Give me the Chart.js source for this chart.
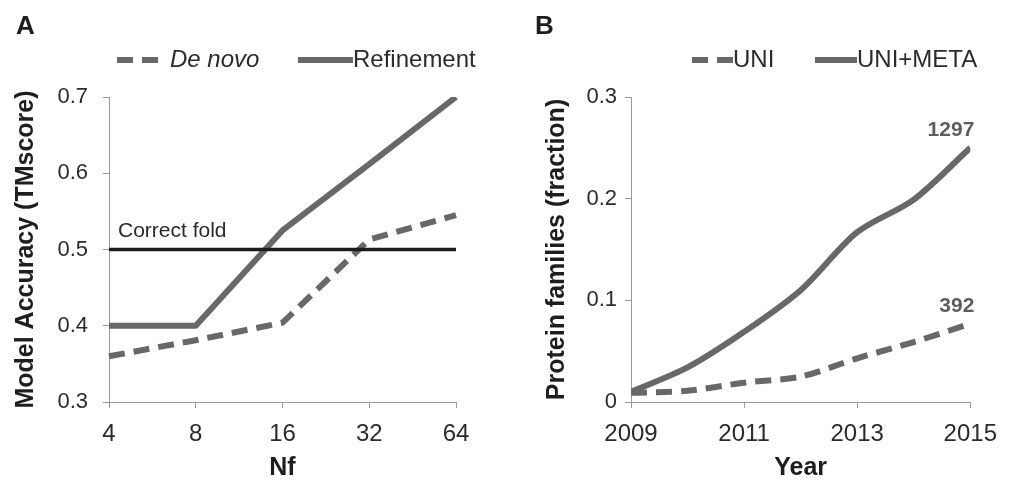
<!DOCTYPE html>
<html>
<head>
<meta charset="utf-8">
<script src="https://cdn.jsdelivr.net/npm/chart.js@4/dist/chart.umd.min.js"></script>
<style>
  html, body { margin: 0; padding: 0; background: #fff; }
  #wrap { position: relative; width: 1009px; height: 481px; overflow: hidden; background: #fff; }
  #boxA { position: absolute; left: 0; top: 0; width: 500px; height: 481px; }
  #boxB { position: absolute; left: 500px; top: 0; width: 509px; height: 481px; }
</style>
</head>
<body>
<div id="wrap">
  <div id="boxA"><canvas id="panelA" width="500" height="481"></canvas></div>
  <div id="boxB"><canvas id="panelB" width="509" height="481"></canvas></div>
</div>
<script>
// Panel A: model accuracy against number of effective sequences (Nf)
const nfLabels = ['4', '8', '16', '32', '64'];
const deNovo = [0.360, 0.381, 0.404, 0.513, 0.545];
const refinement = [0.400, 0.400, 0.525, 0.612, 0.700];
const correctFold = [0.5, 0.5, 0.5, 0.5, 0.5];
const accuracyTicks = ['0.3', '0.4', '0.5', '0.6', '0.7'];

// Panel B: fraction of protein families with enough sequences, per year
const years = [2009, 2010, 2011, 2012, 2013, 2014, 2015];
const uni = [0.009, 0.011, 0.019, 0.025, 0.043, 0.059, 0.077];
const uniMeta = [0.010, 0.034, 0.069, 0.110, 0.167, 0.199, 0.250];
const yearTicks = ['2009', '2011', '2013', '2015'];
const fractionTicks = ['0', '0.1', '0.2', '0.3'];
const familyCounts = ['1297', '392'];

const FONT = '"Liberation Sans", Arial, Helvetica, sans-serif';
const LINE_GREY = '#686868';
const TEXT = '#2b2b2b';
const AXIS_GREY = '#9a9a9a';

Chart.defaults.font.family = FONT;
Chart.defaults.color = TEXT;

// Legend drawn as line samples followed by the dataset label
function lineLegend(items) {
  return {
    id: 'lineLegend',
    afterDraw(chart) {
      const ctx = chart.ctx;
      const y = 60;
      items.forEach(it => {
        const ds = chart.data.datasets[it.dataset];
        ctx.save();
        ctx.strokeStyle = ds.borderColor;
        ctx.lineWidth = 6;
        ctx.lineCap = 'butt';
        ctx.setLineDash(ds.borderDash || []);
        ctx.beginPath();
        ctx.moveTo(it.x0, y);
        ctx.lineTo(it.x1, y);
        ctx.stroke();
        ctx.setLineDash([]);
        ctx.font = (it.italic ? 'italic ' : '') + '24px ' + FONT;
        ctx.fillStyle = TEXT;
        ctx.textBaseline = 'middle';
        ctx.textAlign = 'left';
        ctx.fillText(ds.label, it.tx, y);
        ctx.restore();
      });
    }
  };
}

// Bold panel letter in the top-left corner
function panelLetter(letter, x) {
  return {
    id: 'panelLetter',
    afterDraw(chart) {
      const ctx = chart.ctx;
      ctx.save();
      ctx.font = 'bold 26px ' + FONT;
      ctx.fillStyle = '#1e1e1e';
      ctx.textBaseline = 'middle';
      ctx.fillText(letter, x, 27);
      ctx.restore();
    }
  };
}

// "Correct fold" caption sitting just above the threshold line
const foldCaption = {
  id: 'foldCaption',
  afterDraw(chart) {
    const ctx = chart.ctx;
    const ys = chart.scales.y;
    ctx.save();
    ctx.font = '21px ' + FONT;
    ctx.fillStyle = TEXT;
    ctx.textBaseline = 'middle';
    ctx.fillText('Correct fold', chart.chartArea.left + 9, ys.getPixelForValue(correctFold[0]) - 18);
    ctx.restore();
  }
};

// Family counts written above the last point of each series
const endCounts = {
  id: 'endCounts',
  afterDraw(chart) {
    const ctx = chart.ctx;
    ctx.save();
    ctx.font = 'bold 21px ' + FONT;
    ctx.fillStyle = '#5e5e5e';
    ctx.textAlign = 'right';
    ctx.textBaseline = 'middle';
    [1, 0].forEach((dsIndex, k) => {
      const pts = chart.getDatasetMeta(dsIndex).data;
      const last = pts[pts.length - 1];
      ctx.fillText(familyCounts[k], last.x + 4, last.y - 18);
    });
    ctx.restore();
  }
};

function axisCommon() {
  return {
    grid: { drawOnChartArea: false, drawTicks: true, tickLength: 6, color: AXIS_GREY, lineWidth: 1 },
    border: { display: true, color: AXIS_GREY, width: 1 }
  };
}

const lineStyle = {
  borderColor: LINE_GREY,
  borderWidth: 6,
  pointRadius: 0,
  pointHoverRadius: 0,
  borderJoinStyle: 'round',
  borderCapStyle: 'butt',
  fill: false
};

new Chart(document.getElementById('panelA'), {
  type: 'line',
  data: {
    labels: nfLabels,
    datasets: [
      Object.assign({ label: 'De novo', data: deNovo, borderDash: [16, 9], tension: 0, order: 2 }, lineStyle),
      Object.assign({ label: 'Refinement', data: refinement, tension: 0, order: 3 }, lineStyle),
      { label: 'Correct fold', data: correctFold, borderColor: '#1c1c1c', borderWidth: 3.5,
        pointRadius: 0, tension: 0, fill: false, order: 1 }
    ]
  },
  options: {
    responsive: false,
    animation: false,
    events: [],
    layout: { padding: { top: 97, right: 44, bottom: 0, left: 0 } },
    plugins: { legend: { display: false }, tooltip: { enabled: false } },
    scales: {
      x: Object.assign(axisCommon(), {
        type: 'category',
        offset: false,
        ticks: { font: { size: 24 }, color: TEXT, padding: 12, maxRotation: 0, autoSkip: false },
        title: { display: true, text: 'Nf', color: '#1e1e1e',
                 font: { size: 25, weight: 'bold', lineHeight: 1 }, padding: { top: 0, bottom: 0 } },
        afterFit(s) { s.height = 79; }
      }),
      y: Object.assign(axisCommon(), {
        min: 0.3, max: 0.7,
        ticks: { stepSize: 0.1, font: { size: 22 }, color: TEXT, padding: 15,
                 callback: (v, i) => accuracyTicks[i] },
        title: { display: true, text: 'Model Accuracy (TMscore)', color: '#1e1e1e',
                 font: { size: 25, weight: 'bold', lineHeight: 1 }, padding: { top: 13.5, bottom: 0 } },
        afterFit(s) { s.width = 109; }
      })
    }
  },
  plugins: [
    lineLegend([
      { dataset: 0, x0: 117, x1: 162, tx: 170, italic: true },
      { dataset: 1, x0: 298, x1: 353, tx: 353 }
    ]),
    panelLetter('A', 16),
    foldCaption
  ]
});

new Chart(document.getElementById('panelB'), {
  type: 'line',
  data: {
    datasets: [
      Object.assign({ label: 'UNI', data: years.map((x, i) => ({ x, y: uni[i] })),
                      borderDash: [16, 9], tension: 0.3 }, lineStyle),
      Object.assign({ label: 'UNI+META', data: years.map((x, i) => ({ x, y: uniMeta[i] })),
                      tension: 0.3 }, lineStyle)
    ]
  },
  options: {
    responsive: false,
    animation: false,
    events: [],
    layout: { padding: { top: 97, right: 31, bottom: 0, left: 0 } },
    plugins: { legend: { display: false }, tooltip: { enabled: false } },
    scales: {
      x: Object.assign(axisCommon(), {
        type: 'linear',
        min: years[0], max: years[years.length - 1],
        ticks: { stepSize: 2, font: { size: 24 }, color: TEXT, padding: 12, maxRotation: 0,
                 autoSkip: false, callback: (v, i) => yearTicks[i] },
        title: { display: true, text: 'Year', color: '#1e1e1e',
                 font: { size: 25, weight: 'bold', lineHeight: 1 }, padding: { top: 0, bottom: 0 } },
        afterFit(s) { s.height = 79; }
      }),
      y: Object.assign(axisCommon(), {
        min: 0, max: 0.3,
        ticks: { stepSize: 0.1, font: { size: 22 }, color: TEXT, padding: 8,
                 callback: (v, i) => fractionTicks[i] },
        title: { display: true, text: 'Protein families (fraction)', color: '#1e1e1e',
                 font: { size: 25, weight: 'bold', lineHeight: 1 }, padding: { top: 44.5, bottom: 0 } },
        afterFit(s) { s.width = 131; }
      })
    }
  },
  plugins: [
    lineLegend([
      { dataset: 0, x0: 192, x1: 233, tx: 233 },
      { dataset: 1, x0: 315, x1: 357, tx: 357 }
    ]),
    panelLetter('B', 35),
    endCounts
  ]
});
</script>
</body>
</html>
